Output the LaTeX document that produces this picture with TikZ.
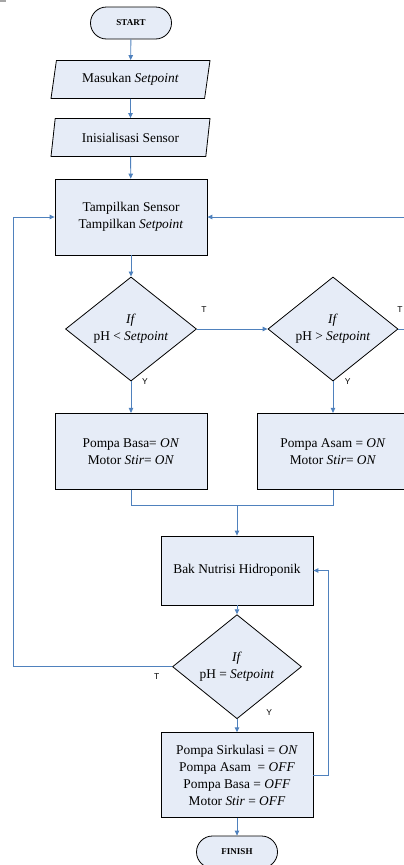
\documentclass[tikz,border=0pt]{standalone}
\usepackage{fontspec}
\setmainfont{Liberation Serif}
\newfontfamily\labelfont{Liberation Sans}
\usetikzlibrary{shapes.geometric,arrows.meta}
\definecolor{boxfill}{RGB}{230,236,247}
\definecolor{flowblue}{RGB}{79,129,189}
\tikzset{
  termbox/.style={draw, fill=boxfill, rounded corners=16pt, minimum width=81pt, minimum height=32pt, inner sep=0pt, font=\fontsize{9}{11}\selectfont\bfseries},
  iobox/.style={draw, fill=boxfill, trapezium, trapezium left angle=66, trapezium right angle=114, trapezium stretches body=true, minimum width=159pt, minimum height=38pt, inner sep=0pt, font=\fontsize{13.4}{17}\selectfont},
  procbox/.style={draw, fill=boxfill, minimum width=152pt, inner sep=0pt, align=center, font=\fontsize{13.4}{17}\selectfont},
  decbox/.style={draw, fill=boxfill, diamond, inner sep=0pt, align=center, font=\fontsize{13.4}{17}\selectfont},
  flow/.style={draw=flowblue, line width=0.9pt, -{Triangle[length=5pt,width=4.5pt]}},
  flowline/.style={draw=flowblue, line width=0.9pt},
  yt/.style={font=\labelfont\fontsize{8.5}{10}\selectfont, inner sep=0pt}
}
\begin{document}
\begin{tikzpicture}[x=1pt, y=-1pt, line width=0.8pt]
\useasboundingbox (0,0) rectangle (404,865);
\fill[gray!70] (0,0) rectangle (6,2);
\node[termbox] (start) at (131,23){START};
\node[iobox] (inp) at (130.5,79.5){Masukan \textit{Setpoint}};
\node[iobox] (init) at (130.5,137.5){Inisialisasi Sensor};
\draw[flow](start) -- (inp);
\draw[flow](inp) -- (init);
\node[procbox, minimum height=76pt] (disp) at (131,217){Tampilkan Sensor\\Tampilkan \textit{Setpoint}};
\draw[flow](init) -- (disp);
\node[decbox, minimum width=131pt, minimum height=100pt] (low) at (131,329){\textit{If}\\pH < \textit{Setpoint}};
\node[decbox, minimum width=130pt, minimum height=100pt] (high) at (333,329){\textit{If}\\pH > \textit{Setpoint}};
\draw[flow](disp) -- (low);
\draw[flow](low.east) -- (high.west);
\coordinate (rgt) at (410,329);
\draw[flow](high.east) -- (rgt) |- (disp.east);
\node[yt] at (204,310){T};
\node[yt] at (400,310){T};
\node[procbox, minimum height=76pt] (basa) at (131,451.3){Pompa Basa= \textit{ON}\\Motor \textit{Stir}= \textit{ON}};
\node[procbox, minimum height=76pt] (asam) at (333,451.3){Pompa Asam = \textit{ON}\\Motor \textit{Stir}= \textit{ON}};
\draw[flow](low) -- (basa);
\draw[flow](high) -- (asam);
\node[yt] at (145,381.7){Y};
\node[yt] at (347.7,381.7){Y};
\coordinate (mrg) at (237,505.3);
\draw[flowline](basa.south) |- (mrg) -| (asam.south);
\node[procbox, minimum height=69pt] (tank) at (237,570.5){Bak Nutrisi Hidroponik};
\draw[flow](mrg) -- (tank);
\node[decbox, minimum width=129pt, minimum height=79pt] (equal) at (237,666.7){\textit{If}\\pH = \textit{Setpoint}};
\draw[flow](tank) -- (equal);
\coordinate (lft) at (13.3,666.7);
\draw[flow](equal.west) -- (lft) |- (disp.west);
\node[yt] at (156.7,676.7){T};
\node[procbox, minimum height=84.6pt] (stop) at (237,775){Pompa Sirkulasi = \textit{ON}\\Pompa Asam\ \ = \textit{OFF}\\Pompa Basa = \textit{OFF}\\Motor \textit{Stir} = \textit{OFF}};
\draw[flow](equal) -- (stop);
\node[yt] at (269.3,712.7){Y};
\coordinate (back) at (328,775);
\draw[flow](stop.east) -- (back) |- (tank.east);
\node[termbox] (finish) at (237,852){FINISH};
\draw[flow](stop) -- (finish);
\end{tikzpicture}
\end{document}
